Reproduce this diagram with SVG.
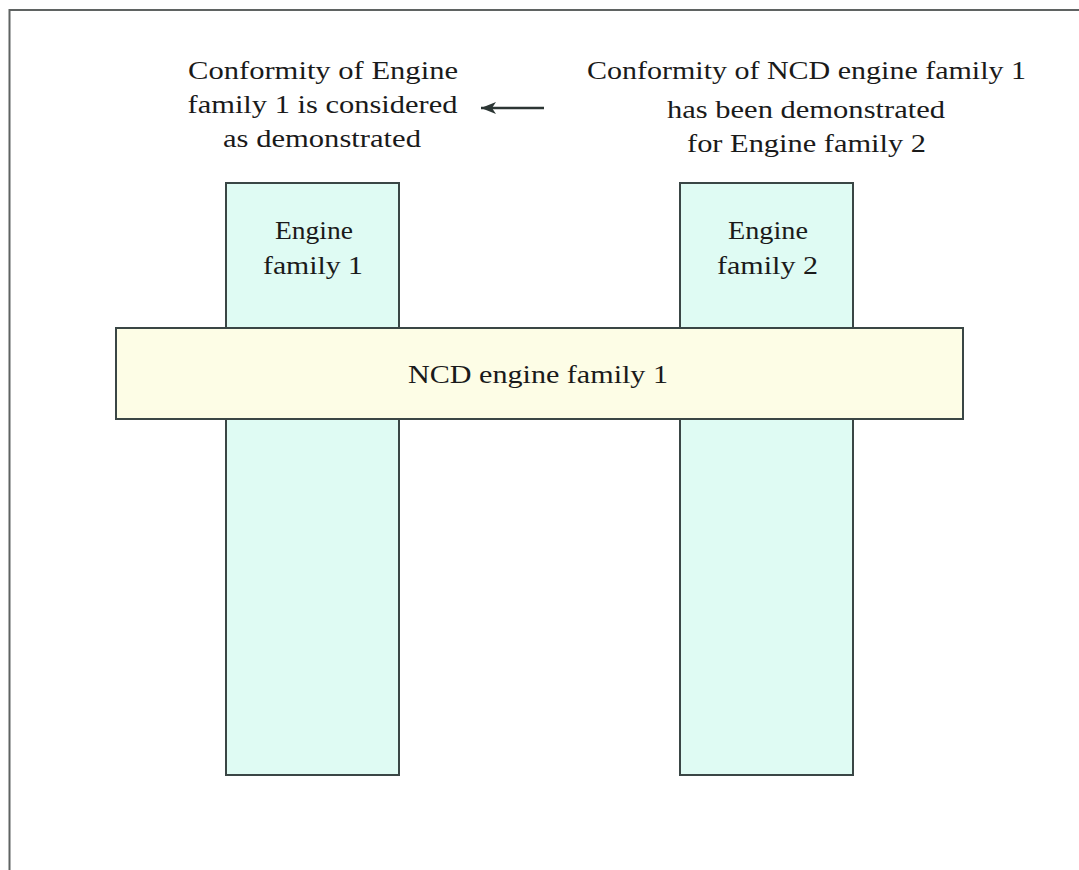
<svg xmlns="http://www.w3.org/2000/svg" width="1079" height="870" viewBox="0 0 1079 870">
<style>
  text { font-family: "Liberation Serif", "Times New Roman", serif; fill: #1a1a1a; text-anchor: middle; }
  .cap { font-size: 24.5px; }
  .lbl { font-size: 24.5px; }
  .big { font-size: 26px; }
  .fam { fill: #dffbf3; stroke: #3a4645; stroke-width: 2; }
  .ncd { fill: #fdfde6; stroke: #3a4645; stroke-width: 2; }
  .frame { stroke: #5f6362; stroke-width: 2; fill: none; }
</style>
<defs>
  <marker id="arr" markerWidth="16" markerHeight="12" refX="15" refY="6" orient="auto" markerUnits="userSpaceOnUse">
    <path d="M0,0 L15,6 L0,12 L4,6 Z" fill="#2c3634"/>
  </marker>
</defs>
<rect width="1079" height="870" fill="#ffffff"/>
<path class="frame" d="M9.5,870 L9.5,10 L1079,10"/>
<g id="caption-left">
  <text class="cap" x="323" y="79" textLength="270" lengthAdjust="spacingAndGlyphs">Conformity of Engine</text>
  <text class="cap" x="322.5" y="113" textLength="270" lengthAdjust="spacingAndGlyphs">family 1 is considered</text>
  <text class="cap" x="322" y="147" textLength="198" lengthAdjust="spacingAndGlyphs">as demonstrated</text>
</g>
<g id="caption-right">
  <text class="cap" x="806.5" y="79" textLength="439" lengthAdjust="spacingAndGlyphs">Conformity of NCD engine family 1</text>
  <text class="cap" x="806" y="118" textLength="278" lengthAdjust="spacingAndGlyphs">has been demonstrated</text>
  <text class="cap" x="806.5" y="152" textLength="239" lengthAdjust="spacingAndGlyphs">for Engine family 2</text>
</g>
<g id="engine-family-1">
  <rect class="fam" x="226" y="183" width="173" height="592"/>
  <text class="lbl" x="314" y="239" textLength="78" lengthAdjust="spacingAndGlyphs">Engine</text>
  <text class="lbl" x="313" y="274" textLength="100" lengthAdjust="spacingAndGlyphs">family 1</text>
</g>
<g id="engine-family-2">
  <rect class="fam" x="680" y="183" width="173" height="592"/>
  <text class="lbl" x="768" y="239" textLength="80" lengthAdjust="spacingAndGlyphs">Engine</text>
  <text class="lbl" x="767.5" y="274" textLength="101" lengthAdjust="spacingAndGlyphs">family 2</text>
</g>
<g id="ncd-engine-family-1">
  <rect class="ncd" x="116" y="328" width="847" height="91"/>
  <text class="big" x="538" y="383" textLength="260" lengthAdjust="spacingAndGlyphs">NCD engine family 1</text>
</g>
<g id="connectors">
  <line x1="544" y1="108" x2="481" y2="108" stroke="#2c3634" stroke-width="2.5" marker-end="url(#arr)"/>
</g>
</svg>
